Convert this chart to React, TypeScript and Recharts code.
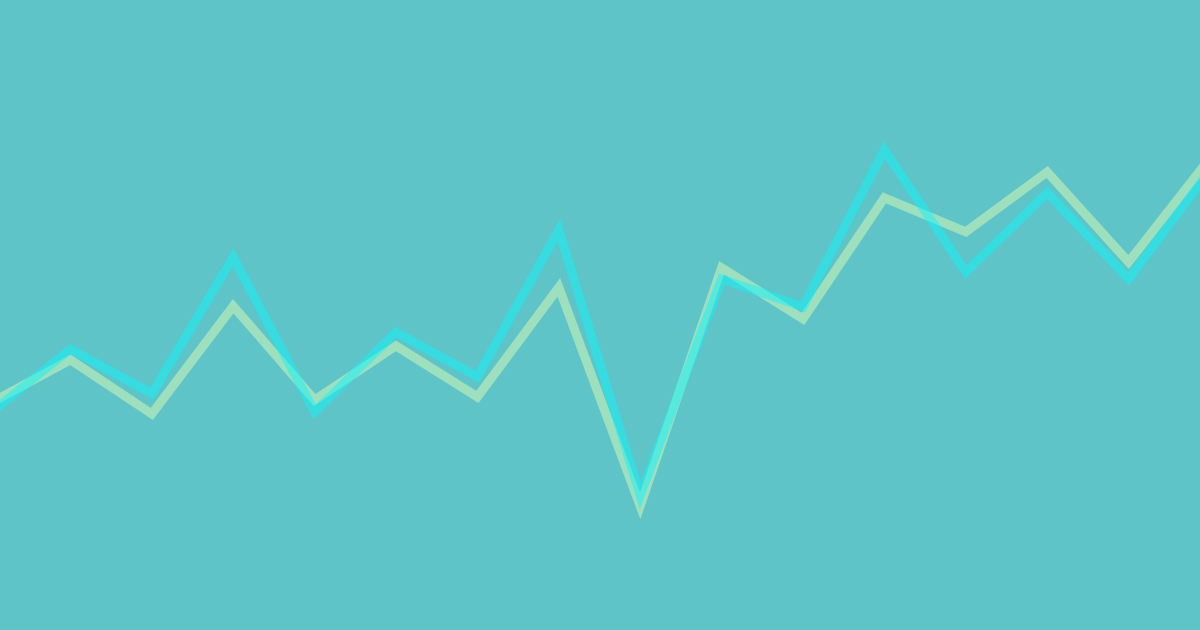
import React from "react";
import { LineChart, Line, XAxis, YAxis } from "recharts";

const categories = ["P0","P1","P2","P3","P4","P5","P6","P7","P8","P9","P10","P11","P12","P13","P14","P15"];
const cyanValues = [34.3, 44.6, 37.5, 59.2, 34.6, 47.3, 40.2, 63.5, 21.4, 55.7, 51.3, 76.2, 56.8, 69.4, 55.7, 73.0];
const greenValues = [35.9, 42.9, 34.3, 51.4, 36.5, 45.1, 37.0, 54.4, 19.7, 57.5, 49.4, 68.6, 63.2, 72.7, 58.4, 74.9];

const data = categories.map((c, i) => ({ name: c, cyan: cyanValues[i], green: greenValues[i] }));

export default function App() {
  return (
    <div
      style={{
        position: "fixed",
        left: 0,
        top: 0,
        width: 1200,
        height: 630,
        overflow: "hidden",
        background: "#5EC4C8",
      }}
    >
      <div style={{ position: "absolute", left: -11.4, top: 0 }}>
        <LineChart width={1221} height={630} data={data} margin={{ top: 0, right: 0, bottom: 0, left: 0 }}>
          <XAxis dataKey="name" hide padding={{ left: 0, right: 0 }} />
          <YAxis hide domain={[0, 100]} />
          <Line
            type="linear"
            dataKey="green"
            stroke="#9EE0BE"
            strokeWidth={9}
            strokeLinejoin="miter"
            strokeMiterlimit={10}
            dot={false}
            activeDot={false}
            isAnimationActive={false}
          />
          <Line
            type="linear"
            dataKey="cyan"
            stroke="#10F4FA"
            strokeOpacity={0.5}
            strokeWidth={9}
            strokeLinejoin="miter"
            strokeMiterlimit={10}
            dot={false}
            activeDot={false}
            isAnimationActive={false}
          />
        </LineChart>
      </div>
    </div>
  );
}
